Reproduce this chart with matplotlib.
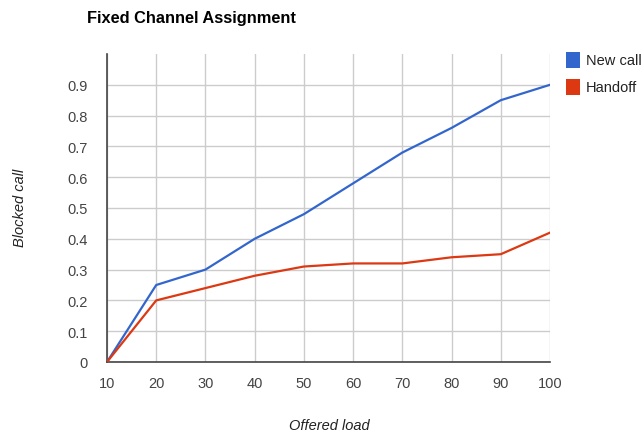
import matplotlib
matplotlib.use("Agg")
import matplotlib.pyplot as plt
from matplotlib.patches import Rectangle

plt.rcParams['font.family'] = ['Liberation Sans', 'DejaVu Sans']

offered_load = [10, 20, 30, 40, 50, 60, 70, 80, 90, 100]
new_call = [0.0, 0.25, 0.30, 0.40, 0.48, 0.58, 0.68, 0.76, 0.85, 0.90]
handoff = [0.0, 0.20, 0.24, 0.28, 0.31, 0.32, 0.32, 0.34, 0.35, 0.42]
y_ticks = [0, 0.1, 0.2, 0.3, 0.4, 0.5, 0.6, 0.7, 0.8, 0.9]
y_tick_labels = ["0", "0.1", "0.2", "0.3", "0.4", "0.5", "0.6", "0.7", "0.8", "0.9"]
series_names = ["New call", "Handoff"]
colors = ["#3366cc", "#dc3912"]

W, H = 641, 435
x0, x1, y_top, y_bot = 107, 550, 55, 363
fig = plt.figure(figsize=(W / 100, H / 100), dpi=100)
ax = fig.add_axes([x0 / W, (H - y_bot) / H, (x1 - x0) / W, (y_bot - y_top) / H])

ax.plot(offered_load, new_call, color=colors[0], lw=1.6, solid_joinstyle='round', zorder=3)
ax.plot(offered_load, handoff, color=colors[1], lw=1.6, solid_joinstyle='round', zorder=3)

ax.set_xlim(10, 100)
ax.set_ylim(0, 1.0)
ax.set_xticks(offered_load)
ax.set_xticklabels([str(v) for v in offered_load])
ax.set_yticks(y_ticks)
ax.set_yticklabels(y_tick_labels)

ax.grid(True, color="#cccccc", lw=1.0, zorder=0)
ax.set_axisbelow(True)
for side in ["top", "right"]:
    ax.spines[side].set_visible(False)
for side in ["left", "bottom"]:
    ax.spines[side].set_color("#444444")
    ax.spines[side].set_linewidth(1.2)
ax.tick_params(axis="x", length=0, labelsize=10.5, colors="#444444", pad=10)
ax.tick_params(axis="y", length=0, labelsize=10.5, colors="#444444", pad=14)

ax.set_xlabel("Offered load", fontsize=10.5, style="italic", color="#222222", va="center")
ax.xaxis.set_label_coords((329 - x0) / (x1 - x0), (y_bot - 426) / (y_bot - y_top))
ax.set_ylabel("Blocked call", fontsize=10.5, style="italic", color="#222222", va="center")
ax.yaxis.set_label_coords((20 - x0) / (x1 - x0), (y_bot - 208) / (y_bot - y_top))

fig.text(87 / W, 1 - 18 / H, "Fixed Channel Assignment", fontsize=11.8, fontweight="bold",
         color="#000000", ha="left", va="center")

# legend boxes on the right
for i, name in enumerate(series_names):
    y0 = 53 + i * 27
    fig.patches.append(Rectangle((566 / W, 1 - (y0 + 16) / H), 14 / W, 16 / H,
                                 transform=fig.transFigure, facecolor=colors[i],
                                 edgecolor="none"))
    fig.text(586 / W, 1 - (y0 + 8) / H, name, fontsize=10.5, color="#222222",
             ha="left", va="center")

fig.savefig("out.png", dpi=100, facecolor="white")
